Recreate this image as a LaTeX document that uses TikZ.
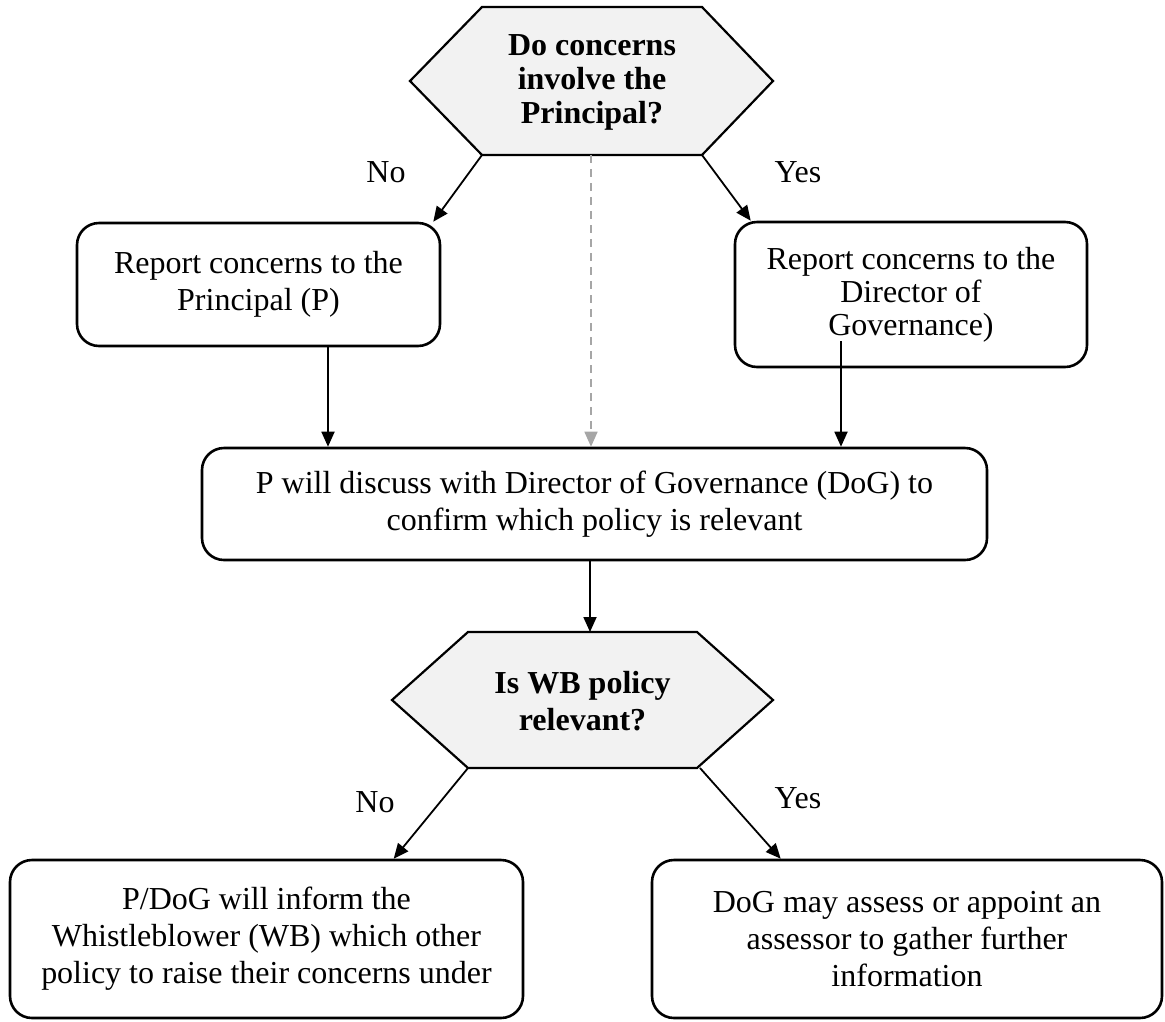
\documentclass[tikz,border=0pt]{standalone}
\usepackage{fontspec}
\setmainfont{Liberation Serif}
\usetikzlibrary{arrows.meta,calc}

\begin{document}
\begin{tikzpicture}[x=1pt,y=-1pt,>={Triangle[length=15pt,width=13pt]},
  box/.style={draw,line width=2.6pt,rounded corners=22pt,align=center,inner sep=0pt,
    font=\fontsize{32}{37}\selectfont},
  ask/.style={align=center,inner sep=0pt,font=\bfseries\fontsize{32}{37}\selectfont},
  hexa/.style={draw,line width=2.2pt,fill=gray!10,line join=miter},
  lab/.style={font=\fontsize{32}{37}\selectfont},
  arr/.style={->,line width=1.8pt}]
  \useasboundingbox (0,0) rectangle (1165,1021);
  % first question
  \draw[hexa] (410,81) -- (482,7) -- (702,7) -- (773,81) -- (702,155) -- (482,155) -- cycle;
  \node[ask,font=\bfseries\fontsize{32}{34}\selectfont] (q1) at (592,82) {Do concerns\\involve the\\Principal?};
  \coordinate (q1sw) at (482,155);
  \coordinate (q1se) at (702,155);
  \coordinate (q1s) at (591,155);
  % reporting routes
  \node[box,minimum width=363pt,minimum height=123pt] (rp) at (258.5,284.5) {Report concerns to the\\Principal (P)};
  \node[box,minimum width=352pt,minimum height=145pt,font=\fontsize{32}{33}\selectfont] (rd) at (911,294.5)
    {Report concerns to the\\Director of\\Governance)};
  \node[box,minimum width=785pt,minimum height=112pt] (disc) at (594.5,504)
    {P will discuss with Director of Governance (DoG) to\\confirm which policy is relevant};
  % second question
  \draw[hexa] (392,700) -- (468,632) -- (697,632) -- (773,700) -- (697,768) -- (468,768) -- cycle;
  \node[ask] (q2) at (582.5,701) {Is WB policy\\relevant?};
  \coordinate (q2n) at (590,632);
  \coordinate (q2sw) at (468,768);
  \coordinate (q2se) at (700,768);
  % outcomes
  \node[box,minimum width=513pt,minimum height=158pt] (inf) at (266.5,939)
    {P/DoG will inform the\\Whistleblower (WB) which other\\policy to raise their concerns under};
  \node[box,minimum width=510pt,minimum height=158pt] (ass) at (907,939)
    {DoG may assess or appoint an\\assessor to gather further\\information};
  % connectors
  \draw[arr] (q1sw) -- ($(rp.north east)+(-8,0)$);
  \draw[arr] (q1se) -- ($(rd.north west)+(17,0)$);
  \draw[arr,gray!70,dash pattern=on 8pt off 6pt,line width=1.6pt] (q1s) -- (q1s |- disc.north);
  \coordinate (rpout) at ($(rp.south)+(69.5,0)$);
  \draw[arr] (rpout) -- (rpout |- disc.north);
  \coordinate (rdout) at ($(rd.south)+(-70,-27)$);
  \draw[arr] (rdout) -- (rdout |- disc.north);
  \draw[arr] (disc.south -| q2n) -- (q2n);
  \draw[arr] (q2sw) -- ($(inf.north west)+(385,0)$);
  \draw[arr] (q2se) -- ($(ass.north west)+(130,0)$);
  % labels
  \node[lab] (no1) at (386,172) {No};
  \node[lab] (yes1) at (798,172) {Yes};
  \node[lab] (no2) at (375,802) {No};
  \node[lab] (yes2) at (798,798) {Yes};
\end{tikzpicture}
\end{document}
